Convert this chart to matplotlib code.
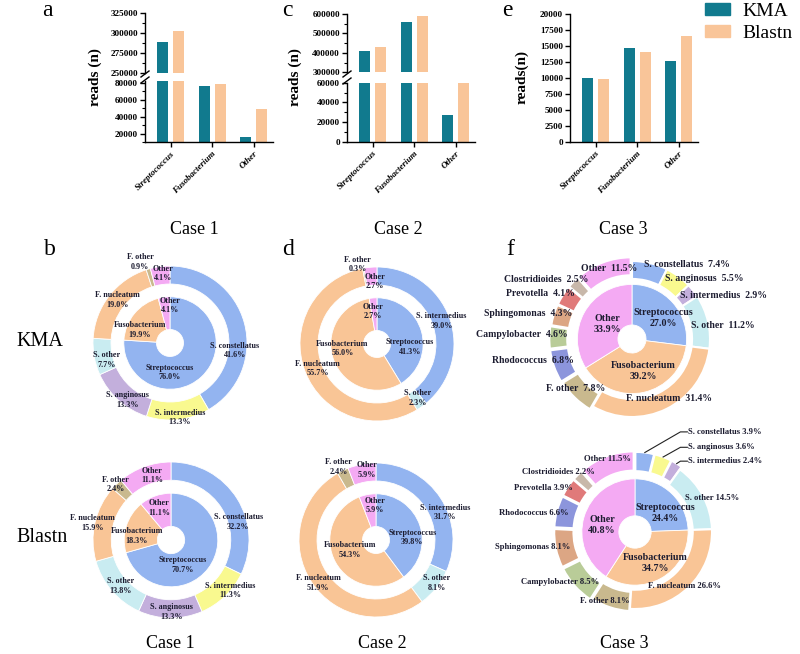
import numpy as np
import matplotlib
matplotlib.use('Agg')
import matplotlib.pyplot as plt
from matplotlib.patches import Patch
from matplotlib.lines import Line2D
from matplotlib.ticker import MultipleLocator, StrMethodFormatter

plt.rcParams['font.family'] = ['Liberation Serif', 'DejaVu Serif']
plt.rcParams['font.weight'] = 'bold'
plt.rcParams['axes.linewidth'] = 1.0

# ------------------------------------------------------------------ data
genera = ['Streptococcus', 'Fusobacterium', 'Other']
methods = ['KMA', 'Blastn']
reads_c1_kma = [289000, 76000, 15500]
reads_c1_blastn = [302500, 79000, 48500]
reads_c2_kma = [410000, 558000, 27000]
reads_c2_blastn = [432000, 591000, 61000]
reads_c3_kma = [10000, 14600, 12600]
reads_c3_blastn = [9850, 14000, 16500]

c1_outer_names = ['S. constellatus', 'S. intermedius', 'S. anginosus', 'S. other',
                  'F. nucleatum', 'F. other', 'Other']
c1k_inner = [76.0, 19.9, 4.1]
c1k_outer = [41.6, 13.3, 13.3, 7.7, 19.0, 0.9, 4.1]
c1b_inner = [70.7, 18.3, 11.1]
c1b_outer = [32.2, 11.3, 13.3, 13.8, 15.9, 2.4, 11.1]

c2_outer_names = ['S. intermedius', 'S. other', 'F. nucleatum', 'F. other', 'Other']
c2k_inner = [41.3, 56.0, 2.7]
c2k_outer = [39.0, 2.3, 55.7, 0.3, 2.7]
c2b_inner = [39.8, 54.3, 5.9]
c2b_outer = [31.7, 8.1, 51.9, 2.4, 5.9]

c3k_outer_names = ['S. constellatus', 'S. anginosus', 'S. intermedius', 'S. other',
                   'F. nucleatum', 'F. other', 'Rhodococcus', 'Campylobacter',
                   'Sphingomonas', 'Prevotella', 'Clostridioides', 'Other']
c3k_inner = [27.0, 39.2, 33.9]
c3k_outer = [7.4, 5.5, 2.9, 11.2, 31.4, 7.8, 6.8, 4.6, 4.3, 4.1, 2.5, 11.5]
c3b_outer_names = ['S. constellatus', 'S. anginosus', 'S. intermedius', 'S. other',
                   'F. nucleatum', 'F. other', 'Campylobacter', 'Sphingomonas',
                   'Rhodococcus', 'Prevotella', 'Clostridioides', 'Other']
c3b_inner = [24.4, 34.7, 40.8]
c3b_outer = [3.9, 3.6, 2.4, 14.5, 26.6, 8.1, 8.5, 8.1, 6.6, 3.9, 2.2, 11.5]

# ------------------------------------------------------------------ colours
KMA_COL = '#117a8e'
BLA_COL = '#f9c599'
BLUE = '#93b4f0'
YEL = '#f9f98f'
LAV = '#c3afdc'
CYAN = '#c9ecf1'
PEACH = '#f9c596'
TAN = '#c9b98e'
PINK = '#f4aaf3'
RHODO = '#8c95dc'
CAMPY = '#b9cc98'
SPHIN = '#dca684'
PREVO = '#e07a7a'
CLOST = '#c8b8aa'
TXT = '#1c1c30'

inner_cols = [BLUE, PEACH, PINK]
c1_outer_cols = [BLUE, YEL, LAV, CYAN, PEACH, TAN, PINK]
c2_outer_cols = [BLUE, CYAN, PEACH, TAN, PINK]
c3k_outer_cols = [BLUE, YEL, LAV, CYAN, PEACH, TAN, RHODO, CAMPY, SPHIN, PREVO, CLOST, PINK]
c3b_outer_cols = [BLUE, YEL, LAV, CYAN, PEACH, TAN, CAMPY, SPHIN, RHODO, PREVO, CLOST, PINK]

W, H = 800, 654
fig = plt.figure(figsize=(W / 100, H / 100), dpi=100)


def px_axes(x0, y0, x1, y1):
    return fig.add_axes([x0 / W, 1 - y1 / H, (x1 - x0) / W, (y1 - y0) / H])


def fpx(x, y):
    return x / W, 1 - y / H


# ------------------------------------------------------------------ bars
XLIM = (-0.62, 2.47)
BW, OFF = 0.265, 0.195
xs = np.arange(len(genera))
FMT = StrMethodFormatter('{x:.0f}')


def base_style(ax, ylim, major, minor):
    ax.set_xlim(*XLIM)
    ax.set_ylim(*ylim)
    ax.spines['top'].set_visible(False)
    ax.spines['right'].set_visible(False)
    ax.yaxis.set_major_locator(MultipleLocator(major))
    if minor:
        ax.yaxis.set_minor_locator(MultipleLocator(minor))
    ax.yaxis.set_major_formatter(FMT)
    ax.tick_params(axis='y', which='major', direction='out', length=3.5, width=1,
                   labelsize=6.6, pad=1.5)
    ax.tick_params(axis='y', which='minor', direction='out', length=2, width=0.8)
    for t in ax.get_yticklabels():
        t.set_fontweight('bold')


def draw_bars(ax, kma, bla):
    ax.bar(xs - OFF, kma, BW, color=KMA_COL)
    ax.bar(xs + OFF, bla, BW, color=BLA_COL)


def bottom_style(ax):
    ax.set_xticks(xs)
    ax.set_xticklabels(genera, rotation=45, ha='right', rotation_mode='anchor',
                       fontstyle='italic', fontweight='bold', fontsize=6.5)
    ax.tick_params(axis='x', direction='out', length=3.5, width=1, pad=2)


def top_style(ax):
    ax.spines['bottom'].set_visible(False)
    ax.set_xticks([])


def break_marks(x, y_up, y_lo):
    for yy in (y_up, y_lo):
        x0, y0 = fpx(x - 4, yy + 3)
        x1, y1 = fpx(x + 4, yy - 3)
        fig.add_artist(Line2D([x0, x1], [y0, y1], color='k', lw=1.0))


# panel a
a_up = px_axes(145, 13, 273, 73)
a_lo = px_axes(145, 81, 273, 142)
for ax in (a_up, a_lo):
    draw_bars(ax, reads_c1_kma, reads_c1_blastn)
base_style(a_up, (250000, 325000), 25000, 12500)
base_style(a_lo, (10000, 82000), 20000, 10000)
top_style(a_up)
bottom_style(a_lo)
break_marks(145, 74, 80)

# panel c
c_up = px_axes(347, 14, 475, 72.3)
c_lo = px_axes(347, 82.7, 475, 141.7)
for ax in (c_up, c_lo):
    draw_bars(ax, reads_c2_kma, reads_c2_blastn)
base_style(c_up, (300000, 600000), 100000, 50000)
base_style(c_lo, (0, 60000), 20000, 10000)
top_style(c_up)
bottom_style(c_lo)
break_marks(347, 74, 81)

# panel e
e_ax = px_axes(570, 14, 698, 141.7)
draw_bars(e_ax, reads_c3_kma, reads_c3_blastn)
base_style(e_ax, (0, 20000), 2500, None)
bottom_style(e_ax)

for (lx, ly, s) in [(95, 77, 'reads (n)'), (295, 77, 'reads (n)'), (522, 77, 'reads(n)')]:
    fig.text(*fpx(lx, ly), s, rotation=90, ha='center', va='center', fontsize=11,
             fontweight='bold')

fig.legend([Patch(color=KMA_COL), Patch(color=BLA_COL)], methods, loc='upper left',
           bbox_to_anchor=fpx(705, 3), frameon=False,
           prop={'family': 'Liberation Serif', 'weight': 'normal', 'size': 14},
           handlelength=1.3, handleheight=0.6, handletextpad=0.6, labelspacing=0.25,
           borderaxespad=0, borderpad=0)

# ------------------------------------------------------------------ donuts
SIZE = 260


def donut(cx, cy, R, inner, outer, ocols, r_ring_in, r_inner, r_hole, lw=0.6,
          explode=None):
    ax = px_axes(cx - SIZE / 2, cy - SIZE / 2, cx + SIZE / 2, cy + SIZE / 2)
    ax.pie(outer, radius=1.0, colors=ocols, startangle=90, counterclock=False,
           explode=explode,
           wedgeprops=dict(width=1 - r_ring_in, edgecolor='white', linewidth=lw))
    ax.pie(inner, radius=r_inner, colors=inner_cols, startangle=90, counterclock=False,
           wedgeprops=dict(width=r_inner - r_hole, edgecolor='white', linewidth=0.6))
    lim = SIZE / 2 / R
    ax.set_xlim(-lim, lim)
    ax.set_ylim(-lim, lim)
    ax.set_aspect('equal')
    return ax


def labels2(ax, names, vals, pos, fs):
    for n, v, (x, y) in zip(names, vals, pos):
        ax.text(x, y, f'{n}\n{v:.1f}%', ha='center', va='center', fontsize=fs,
                color=TXT, linespacing=1.25)


def labels1(ax, names, vals, pos, fs, sep=' '):
    for n, v, (x, y, ha) in zip(names, vals, pos):
        ax.text(x, y, f'{n}{sep}{v:.1f}%', ha=ha, va='center', fontsize=fs, color=TXT)


FS12 = 5.9
# Case 1 KMA
ax = donut(170, 343, 77, c1k_inner, c1k_outer, c1_outer_cols, 0.766, 0.6, 0.175)
labels2(ax, c1_outer_names, c1k_outer,
        [(0.84, -0.10), (0.13, -0.97), (-0.55, -0.74), (-0.82, -0.22),
         (-0.68, 0.56), (-0.39, 1.05), (-0.09, 0.90)], FS12)
labels2(ax, genera, c1k_inner, [(0.0, -0.38), (-0.39, 0.17), (0.0, 0.49)], FS12)

# Case 1 Blastn
ax = donut(171, 540, 78, c1b_inner, c1b_outer, c1_outer_cols, 0.766, 0.6, 0.175)
labels2(ax, c1_outer_names, c1b_outer,
        [(0.86, 0.23), (0.76, -0.65), (0.01, -0.92), (-0.65, -0.59),
         (-1.01, 0.22), (-0.71, 0.71), (-0.24, 0.83)], FS12)
labels2(ax, genera, c1b_inner, [(0.15, -0.32), (-0.44, 0.05), (-0.15, 0.41)], FS12)

# Case 2 KMA
ax = donut(377, 344, 77, c2k_inner, c2k_outer, c2_outer_cols, 0.766, 0.6, 0.175)
labels2(ax, c2_outer_names, c2k_outer,
        [(0.84, 0.30), (0.53, -0.70), (-0.77, -0.32), (-0.25, 1.03), (-0.03, 0.81)], FS12)
labels2(ax, genera, c2k_inner, [(0.43, -0.04), (-0.45, -0.06), (-0.05, 0.42)], FS12)

# Case 2 Blastn
ax = donut(376, 540, 77, c2b_inner, c2b_outer, c2_outer_cols, 0.766, 0.6, 0.175)
labels2(ax, c2_outer_names, c2b_outer,
        [(0.90, 0.36), (0.79, -0.56), (-0.75, -0.56), (-0.49, 0.95), (-0.12, 0.91)], FS12)
labels2(ax, genera, c2b_inner, [(0.47, 0.03), (-0.34, -0.13), (-0.01, 0.45)], FS12)

# Case 3 KMA
exp_k = [0, 0, 0, 0, 0, 0.05, 0.06, 0.06, 0.05, 0.05, 0.05, 0.05]
ax = donut(632, 339, 78, c3k_inner, c3k_outer, c3k_outer_cols, 0.77, 0.70, 0.18,
           lw=1.5, explode=exp_k)
labels1(ax, c3k_outer_names, c3k_outer,
        [(0.71, 0.96, 'center'), (0.92, 0.77, 'center'), (1.17, 0.56, 'center'),
         (1.17, 0.17, 'center'), (0.47, -0.76, 'center'), (-0.72, -0.63, 'center'),
         (-0.74, -0.28, 'right'), (-0.82, 0.06, 'right'), (-0.77, 0.33, 'right'),
         (-0.73, 0.58, 'right'), (-0.56, 0.76, 'right'), (-0.29, 0.91, 'center')],
        7.0, sep='  ')
labels2(ax, genera, c3k_inner, [(0.40, 0.27), (0.14, -0.41), (-0.31, 0.19)], 7.2)

# Case 3 Blastn
exp_b = [0.04, 0.04, 0.04, 0, 0, 0.03, 0.05, 0.05, 0.05, 0.05, 0.05, 0.05]
ax = donut(635, 532, 77, c3b_inner, c3b_outer, c3b_outer_cols, 0.75, 0.69, 0.21,
           lw=1.5, explode=exp_b)
c3b_pos = [(0.69, 1.30, 'left'), (0.69, 1.10, 'left'), (0.69, 0.92, 'left'),
           (1.0, 0.44, 'center'), (0.64, -0.70, 'center'), (-0.39, -0.90, 'center'),
           (-0.97, -0.65, 'center'), (-0.84, -0.19, 'right'), (-0.87, 0.25, 'right'),
           (-0.81, 0.57, 'right'), (-0.52, 0.78, 'right'), (-0.36, 0.95, 'center')]
labels1(ax, c3b_outer_names, c3b_outer, c3b_pos, 6.2)
cum = np.cumsum([0] + c3b_outer) / np.sum(c3b_outer)
for i in range(3):
    mid = np.deg2rad(90 - 360 * (cum[i] + cum[i + 1]) / 2)
    r0 = 1.0 + exp_b[i]
    tx, ty, _ = c3b_pos[i]
    ax.plot([r0 * np.cos(mid), tx - 0.1, tx - 0.01], [r0 * np.sin(mid), ty, ty],
            color='#222222', lw=0.8, clip_on=False)
labels2(ax, genera, c3b_inner, [(0.39, 0.25), (0.26, -0.40), (-0.43, 0.09)], 7.2)

# ------------------------------------------------------------------ texts
for (x, y, s) in [(47, 11, 'a'), (287, 11, 'c'), (507, 11, 'e'),
                  (50, 249, 'b'), (288, 249, 'd'), (510, 249, 'f')]:
    fig.text(*fpx(x, y), s, ha='center', va='center', fontsize=17, fontweight='normal')
for (x, y, s) in [(194, 230, 'Case 1'), (398, 230, 'Case 2'), (623, 230, 'Case 3'),
                  (170, 643, 'Case 1'), (382, 643, 'Case 2'), (624, 643, 'Case 3')]:
    fig.text(*fpx(x, y), s, ha='center', va='center', fontsize=13, fontweight='normal')
fig.text(*fpx(40, 342), 'KMA', ha='center', va='center', fontsize=14.5, fontweight='normal')
fig.text(*fpx(42, 538), 'Blastn', ha='center', va='center', fontsize=14.5,
         fontweight='normal')

fig.savefig('out.png', dpi=100)
